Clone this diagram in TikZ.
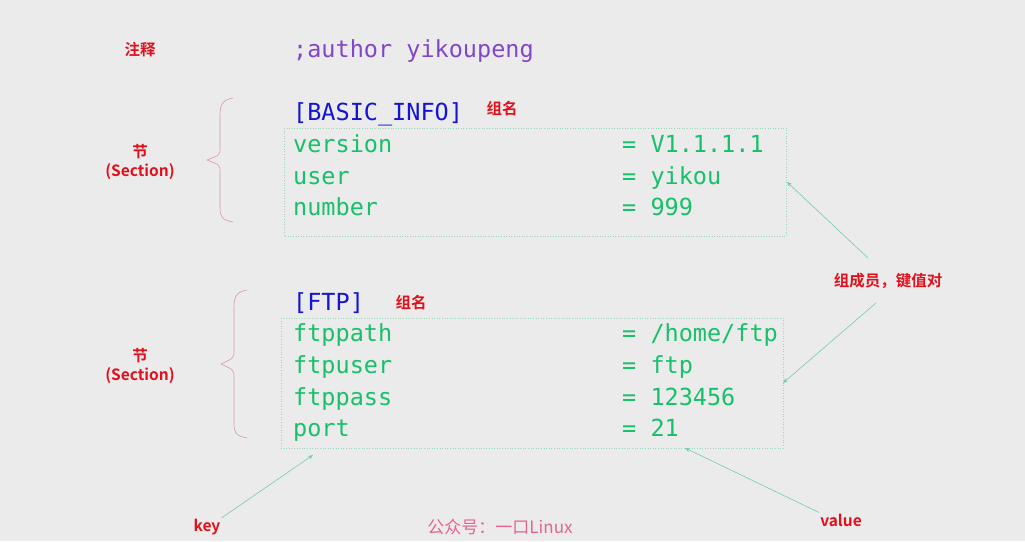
\documentclass[tikz,border=0pt]{standalone}
\usepackage{fontspec}
\usetikzlibrary{arrows.meta}
\setmonofont{DejaVu Sans Mono}
\newfontfamily\cjk{Noto Sans CJK SC}[BoldFont={Noto Sans CJK SC Bold}]
\begin{document}
\begin{tikzpicture}[x=1pt,y=-1pt,
  code/.style={anchor=base west,inner sep=0pt,font=\ttfamily\fontsize{23.5}{24}\selectfont},
  keyc/.style={code,text=codegreen},
  lab/.style={font=\cjk\bfseries\fontsize{15.5}{19}\selectfont,text=labred,align=center,inner sep=1pt},
  brace/.style={draw=bracered,line width=0.6pt},
  box/.style={draw=boxgreen,dotted,line width=0.6pt},
  arr/.style={draw=arrowc,line width=0.6pt,-{Stealth[length=5pt,width=4pt]}}]
\definecolor{codegreen}{HTML}{17C06A}
\definecolor{labred}{HTML}{E0101C}
\definecolor{bracered}{HTML}{D89AA0}
\definecolor{boxgreen}{HTML}{9BD8B8}
\definecolor{arrowc}{HTML}{6FCFB0}
\fill[fill={rgb,255:red,235;green,235;blue,235}] (0,0) rectangle (1025,541);
\useasboundingbox (0,0) rectangle (1025,541);
% boxes
\draw[box] (284,128) rectangle (786,236);
\draw[box] (281,318) rectangle (783,448);
% text
\node[code,text={rgb,255:red,130;green,70;blue,200}] (cmt) at (293,57) {;author yikoupeng};
\node[code,text={rgb,255:red,20;green,20;blue,210}] (s1) at (293,120) {[BASIC\_INFO]};
\node[keyc] (k1) at (293,152) {version};
\node[keyc] (k2) at (293,184) {user};
\node[keyc] (k3) at (293,215) {number};
\node[keyc] (v1) at (622,152) {= V1.1.1.1};
\node[keyc] (v2) at (622,184) {= yikou};
\node[keyc] (v3) at (622,215) {= 999};
\node[code,text={rgb,255:red,20;green,20;blue,210}] (s2) at (293,310) {[FTP]};
\node[keyc] (k4) at (293,341) {ftppath};
\node[keyc] (k5) at (293,373) {ftpuser};
\node[keyc] (k6) at (293,405) {ftppass};
\node[keyc] (k7) at (293,436) {port};
\node[keyc] (v4) at (622,341) {= /home/ftp};
\node[keyc] (v5) at (622,373) {= ftp};
\node[keyc] (v6) at (622,405) {= 123456};
\node[keyc] (v7) at (622,436) {= 21};
% labels
\node[lab] (l0) at (140,50) {注释};
\node[lab] (g1) at (502,109) {组名};
\node[lab] (g2) at (411,303) {组名};
\node[lab] (sec1) at (140,162) {节\\(Section)};
\node[lab] (sec2) at (140,366) {节\\(Section)};
\node[lab] (mem) at (888,281) {组成员，键值对};
\node[lab] (key) at (207,527) {key};
\node[lab] (val) at (841,520) {value};
\node[font=\cjk\fontsize{17}{18}\selectfont,text={rgb,255:red,230;green,100;blue,140}] (wm) at (500,527) {公众号：一口Linux};
% braces
\draw[brace] (233,98) .. controls (222,100) and (220,105) .. (220,115) -- (220,148) .. controls (220,155) .. (207,160) .. controls (220,165) .. (220,172) -- (220,207) .. controls (220,217) and (222,220) .. (233,222);
\draw[brace] (247,290) .. controls (236,292) and (234,297) .. (234,307) -- (234,350) .. controls (234,358) .. (221,364) .. controls (234,370) .. (234,378) -- (234,423) .. controls (234,433) and (236,436) .. (247,438);
% arrows
\coordinate (m1) at (868,258);
\coordinate (m2) at (876,303);
\coordinate (a1) at (787,182);
\coordinate (a2) at (783,383);
\coordinate (a3) at (313,455);
\coordinate (a4) at (685,448);
\draw[arr] (m1) -- (a1);
\draw[arr] (m2) -- (a2);
\draw[arr] (key.north east) -- (a3);
\draw[arr] (val.north west) -- (a4);
\end{tikzpicture}
\end{document}
